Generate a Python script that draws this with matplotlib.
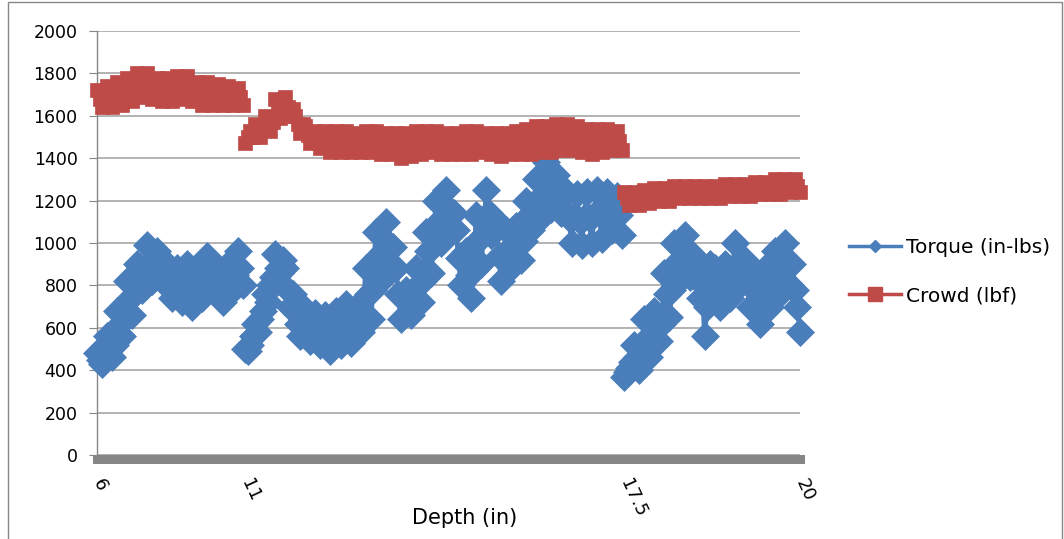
import numpy as np
import matplotlib.pyplot as plt
from matplotlib.lines import Line2D
from matplotlib.patches import Rectangle

# torque readings (in-lbs), one per depth sample on the category axis
torque = [
    # 6 .. 11
    480, 450, 430, 470, 560, 510, 460, 520, 680, 620, 560, 640,
    820, 740, 660, 760, 900, 840, 780, 860, 990, 900, 820, 920,
    960, 890, 820, 900, 900, 820, 740, 830, 880, 800, 720, 810,
    900, 800, 700, 800, 880, 810, 740, 820, 940, 860, 780, 870,
    880, 800, 720, 810, 900, 840, 780, 850, 960, 880, 800,
    # 11 .. 17.5
    500, 490, 520, 560, 620, 580, 640, 680, 760, 720, 800, 840,
    950, 880, 860, 920, 880, 780, 700, 760, 700, 620, 560, 630,
    690, 610, 540, 620, 670, 590, 520, 600, 660, 570, 490, 580,
    680, 600, 520, 610, 710, 620, 530, 630, 700, 640, 580, 650,
    880, 760, 640, 780, 1050, 940, 820, 960, 1100, 1000, 900, 980,
    880, 760, 640, 740, 780, 720, 660, 730, 880, 800, 720, 820,
    1050, 960, 860, 980, 1200, 1100, 1000, 1120, 1250, 1160, 1060, 1140,
    1060, 930, 800, 920, 960, 850, 740, 870, 1130, 1020, 900, 1040,
    1250, 1140, 1040, 1120, 1060, 940, 820, 950, 1060, 970, 880, 980,
    1080, 1000, 920, 1010, 1200, 1130, 1060, 1140, 1300, 1210, 1120, 1220,
    1380, 1270, 1160, 1280, 1320, 1230, 1140, 1220, 1240, 1120, 1000, 1130,
    1230, 1110, 990, 1120, 1240, 1120, 1000, 1130, 1250, 1140, 1020, 1150,
    1240, 1150, 1060, 1160, 1220, 1130, 1040,
    # 17.5 .. 20
    370, 390, 410, 440, 520, 460, 400, 480, 640, 550, 460, 560,
    680, 610, 540, 620, 860, 760, 650, 780, 1000, 910, 820, 930,
    1040, 940, 840, 950, 920, 830, 740, 820, 560, 700, 900, 800,
    880, 790, 700, 800, 900, 820, 740, 830, 1000, 900, 800, 910,
    920, 810, 700, 820, 820, 720, 620, 730, 880, 790, 700, 800,
    960, 860, 760, 870, 1000, 900, 800, 900, 780, 700, 580,
]

# crowd readings (lbf)
crowd = [
    # 6 .. 11
    1720, 1680, 1640, 1690, 1740, 1690, 1640, 1700, 1760, 1700, 1650, 1710,
    1780, 1720, 1670, 1730, 1800, 1740, 1690, 1750, 1800, 1740, 1680, 1740,
    1780, 1720, 1670, 1730, 1780, 1720, 1670, 1730, 1790, 1730, 1680, 1740,
    1790, 1730, 1670, 1730, 1760, 1700, 1650, 1710, 1760, 1700, 1650, 1710,
    1750, 1700, 1650, 1700, 1740, 1690, 1650, 1700, 1730, 1690, 1650,
    # 11 .. 17.5
    1470, 1500, 1530, 1500, 1560, 1530, 1500, 1540, 1600, 1560, 1530, 1570,
    1680, 1630, 1590, 1640, 1690, 1640, 1600, 1630, 1600, 1560, 1520, 1560,
    1550, 1510, 1470, 1510, 1530, 1490, 1450, 1490, 1530, 1480, 1430, 1480,
    1530, 1480, 1430, 1480, 1530, 1480, 1430, 1480, 1520, 1470, 1430, 1480,
    1530, 1480, 1430, 1480, 1530, 1470, 1420, 1470, 1520, 1470, 1420, 1470,
    1520, 1460, 1400, 1460, 1520, 1460, 1410, 1470, 1530, 1470, 1420, 1480,
    1530, 1480, 1430, 1480, 1530, 1470, 1420, 1470, 1520, 1470, 1420, 1470,
    1520, 1470, 1420, 1470, 1530, 1480, 1420, 1470, 1530, 1480, 1430, 1480,
    1520, 1470, 1420, 1470, 1520, 1460, 1410, 1460, 1520, 1470, 1420, 1470,
    1530, 1470, 1420, 1470, 1540, 1480, 1420, 1480, 1550, 1490, 1430, 1490,
    1550, 1490, 1430, 1490, 1560, 1500, 1440, 1500, 1560, 1500, 1440, 1500,
    1550, 1490, 1430, 1490, 1540, 1480, 1420, 1480, 1540, 1480, 1430, 1490,
    1540, 1490, 1440, 1490, 1530, 1480, 1440,
    # 17.5 .. 20
    1240, 1210, 1180, 1210, 1240, 1210, 1180, 1210, 1250, 1220, 1190, 1220,
    1260, 1230, 1200, 1230, 1260, 1230, 1200, 1230, 1270, 1240, 1210, 1240,
    1270, 1240, 1210, 1240, 1270, 1240, 1210, 1240, 1270, 1240, 1210, 1240,
    1270, 1240, 1210, 1240, 1280, 1250, 1220, 1250, 1280, 1250, 1220, 1250,
    1280, 1250, 1220, 1250, 1290, 1260, 1230, 1260, 1290, 1260, 1230, 1260,
    1300, 1260, 1230, 1270, 1300, 1270, 1240, 1270, 1300, 1270, 1240,
]

# category positions where the depth labels sit (each starts a new run)
depth_ticks = [0, 59, 210, 280]
depth_labels = ['6', '11', '17.5', '20']

blue = '#4a7ebb'
red = '#be4b48'
grey = '#868686'

W, H = 1064, 539
fig = plt.figure(figsize=(W / 100, H / 100), dpi=100)
ax = fig.add_axes([97 / W, 1 - 455 / H, (800 - 97) / W, (455 - 31) / H])

# each run drawn on its own so the jumps between runs are not joined
starts = [0, 59, 210]
ends = [59, 210, len(torque)]
for a, b in zip(starts, ends):
    x = np.arange(a, b)
    ax.plot(x, torque[a:b], color=blue, lw=3.5, marker='D', ms=14.5,
            mec=blue, mew=0.5, clip_on=False, zorder=3)
for a, b in zip(starts, ends):
    x = np.arange(a, b)
    ax.plot(x, crowd[a:b], color=red, lw=3, marker='s', ms=10.5,
            mec=red, mew=0.5, clip_on=False, zorder=4)

ax.set_xlim(0, 280)
ax.set_ylim(0, 2000)
ax.set_yticks(range(0, 2001, 200))
ax.grid(axis='y', color='#a6a6a6', lw=1.2)
ax.set_axisbelow(True)

for s in ['top', 'right']:
    ax.spines[s].set_visible(False)
ax.spines['left'].set_color(grey)
ax.spines['left'].set_linewidth(1)
ax.spines['bottom'].set_color(grey)
ax.spines['bottom'].set_linewidth(6.5)
ax.spines['bottom'].set_position(('outward', 3))

ax.tick_params(axis='y', length=6, color=grey, labelsize=12.5, pad=8)
ax.set_xticks(depth_ticks)
ax.set_xticklabels(depth_labels, fontsize=13, rotation=-65,
                   ha='left', va='center', rotation_mode='anchor')
ax.tick_params(axis='x', length=0, pad=15)

fig.text(465 / W, 1 - 518 / H, 'Depth (in)', ha='center', va='center',
         fontsize=15)

handles = [Line2D([], [], color=blue, lw=2.5, marker='D', ms=6, mec=blue),
           Line2D([], [], color=red, lw=2.5, marker='s', ms=10, mec=red)]
fig.legend(handles, ['Torque (in-lbs)', 'Crowd (lbf)'], loc='upper left',
           bbox_to_anchor=(849 / W, 1 - 238 / H), frameon=False,
           fontsize=14.5, handlelength=2.6, handletextpad=0.25,
           labelspacing=1.45, borderpad=0, borderaxespad=0)

fig.patches.append(Rectangle((8 / W, -0.01), (1062 - 8) / W, 1 - 2 / H + 0.01,
                             transform=fig.transFigure, fill=False,
                             edgecolor=grey, lw=1))

fig.savefig('out.png', dpi=100)
